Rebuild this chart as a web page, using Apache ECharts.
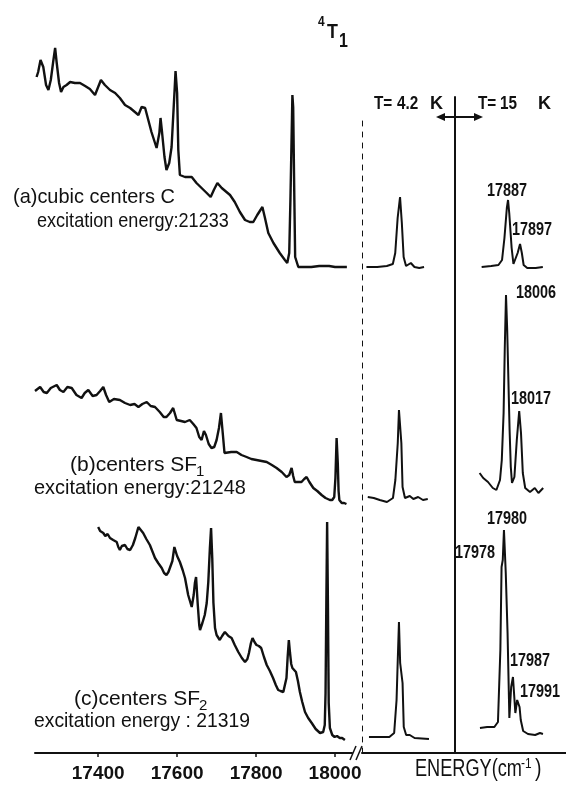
<!DOCTYPE html>
<html><head><meta charset="utf-8">
<script src="https://cdn.jsdelivr.net/npm/echarts@6/dist/echarts.min.js"></script>
<style>html,body{margin:0;padding:0;background:#fff}#c{width:566px;height:786px}</style>
</head><body><div id="c"></div><script>
// ---- tick labels (cm-1) ----
const tickValues = [17400, 17600, 17800, 18000];

// ---- left panel spectra: [energy cm-1, signal (arb., offset)] ----
const spectrumA = [[17244,676],[17248,681],[17254,693],[17261,686],[17268,668],[17274,663],[17280,673],[17286,691],[17291,705],[17295,690],[17301,670],[17306,661],[17312,666],[17320,668],[17329,671],[17341,670],[17354,670],[17367,667],[17379,664],[17392,658],[17400,666],[17407,673],[17417,668],[17430,663],[17443,660],[17455,655],[17468,648],[17481,645],[17493,641],[17502,638],[17510,646],[17519,645],[17527,633],[17535,621],[17544,610],[17548,605],[17555,620],[17558,635],[17562,620],[17568,596],[17573,583],[17580,590],[17586,606],[17590,636],[17594,666],[17596,682],[17600,660],[17603,603],[17607,578],[17620,576],[17637,576],[17649,570],[17662,565],[17675,560],[17685,556],[17693,563],[17702,570],[17713,565],[17725,561],[17734,558],[17746,551],[17759,541],[17772,533],[17784,531],[17793,531],[17803,538],[17816,546],[17822,536],[17831,520],[17844,510],[17860,500],[17873,493],[17879,490],[17884,500],[17887,553],[17891,636],[17892,658],[17894,646],[17897,553],[17899,496],[17907,486],[17920,486],[17940,486],[17960,487],[17975,487],[17980,489],[17985,487],[18000,486],[18030,486]];
const spectrumB = [[17240,362],[17245,364],[17253,366],[17262,361],[17270,360],[17280,365],[17295,368],[17303,363],[17312,361],[17322,366],[17333,365],[17345,358],[17358,355],[17366,360],[17375,363],[17386,357],[17396,358],[17405,362],[17413,366],[17420,358],[17428,351],[17440,354],[17455,353],[17468,350],[17481,348],[17492,349],[17502,346],[17512,349],[17523,351],[17533,347],[17544,346],[17556,341],[17566,336],[17573,336],[17582,340],[17590,345],[17599,333],[17610,332],[17620,331],[17632,333],[17641,329],[17649,325],[17656,316],[17662,313],[17668,322],[17673,318],[17680,309],[17687,305],[17694,306],[17700,313],[17706,325],[17711,340],[17716,318],[17720,300],[17724,298],[17737,301],[17751,301],[17763,298],[17776,296],[17788,294],[17801,293],[17814,292],[17827,291],[17840,288],[17852,285],[17865,281],[17877,276],[17884,278],[17890,285],[17894,277],[17898,271],[17906,271],[17915,271],[17922,274],[17928,276],[17935,271],[17945,265],[17955,262],[17966,258],[17976,255],[17987,253],[17993,253],[17998,256],[18001,275],[18004,315],[18007,290],[18009,262],[18011,253],[18017,250],[18023,250],[18029,249]];
const spectrumC = [[17400,226],[17405,222],[17409,224],[17413,220],[17418,217],[17424,219],[17430,215],[17438,213],[17447,211],[17451,206],[17455,203],[17460,207],[17468,208],[17474,204],[17481,203],[17488,208],[17494,215],[17502,226],[17508,223],[17514,220],[17522,214],[17531,208],[17538,201],[17544,195],[17552,190],[17561,185],[17567,180],[17573,178],[17578,181],[17582,180],[17588,192],[17593,206],[17600,197],[17607,191],[17614,183],[17620,175],[17628,158],[17637,146],[17642,158],[17645,170],[17648,176],[17652,150],[17656,128],[17658,123],[17664,130],[17670,138],[17675,150],[17679,171],[17683,205],[17686,225],[17689,195],[17692,150],[17696,125],[17700,118],[17708,113],[17714,117],[17721,121],[17730,117],[17738,115],[17746,108],[17755,101],[17764,95],[17772,91],[17778,94],[17782,100],[17787,110],[17791,115],[17796,111],[17801,108],[17807,107],[17813,105],[17820,96],[17827,88],[17835,82],[17843,75],[17850,68],[17856,63],[17862,62],[17869,61],[17874,63],[17877,75],[17880,96],[17883,113],[17886,100],[17889,89],[17892,85],[17896,84],[17901,81],[17906,72],[17911,61],[17917,51],[17924,41],[17932,35],[17941,30],[17951,24],[17962,20],[17970,21],[17974,28],[17976,60],[17978,150],[17980,231],[17982,150],[17984,50],[17987,25],[17993,18],[17999,16],[18005,17],[18012,15],[18018,15],[18025,13]];

// ---- T = 4.2 K insets ----
const lowTA = [[17859,486],[17868,486],[17876,487],[17881,489],[17883,500],[17885,535],[17887,556],[17888.5,530],[17890,496],[17892,487],[17896,490],[17899,486],[17903,485],[17907,486]];
const lowTB = [[17980,256],[17985,255],[17990,253],[17996,251],[18001,255],[18003,273],[18005,310],[18006,343],[18008,310],[18009,266],[18011,255],[18015,257],[18018,254],[18022,256],[18026,253],[18030,254]];
const lowTC = [[17955,16],[17963,16],[17972,16],[17976,20],[17978,53],[17979,93],[17980,131],[17981,90],[17982,91],[17983,70],[17984,26],[17986,18],[17989,18],[17993,15],[18005,14]];

// ---- T = 15 K insets ----
const highTA = [[17865,486],[17873,487],[17879,488],[17882,493],[17884,515],[17886,545],[17887,553],[17888,540],[17890,505],[17891.5,489],[17893,490],[17895,500],[17897,509],[17898.5,500],[17900,488],[17903,485],[17910,485],[17916,486]];
const highTB = [[17984,280],[17987,275],[17991,271],[17995,265],[17998,263],[18001,273],[18002.5,293],[18004,340],[18005,406],[18006,458],[18007,423],[18009,323],[18010,286],[18011,270],[18013,276],[18015,313],[18017,342],[18018.5,320],[18020,280],[18022,265],[18026,261],[18030,265],[18033,260],[18037,265]];
const highTC = [[17960,25],[17966,26],[17972,26],[17975,31],[17977,103],[17978,186],[17979,193],[17980,223],[17981.5,180],[17983,120],[17984.5,35],[17986,66],[17987.5,76],[17989.5,40],[17991,53],[17993,46],[17994,33],[17996,22],[18000,19],[18006,18],[18010,20],[18012.5,19]];

// ---- peak annotations ----
const peakLabels = ['17887','17897','18006','18017','17980','17978','17987','17991'];

const INK = '#111';
const NARROW = '"Liberation Sans Narrow","Liberation Sans",sans-serif';
const SANS = '"Liberation Sans",Arial,sans-serif';

function lineSeries(data, xi, yi, w) {
  return {type:'line', data, xAxisIndex:xi, yAxisIndex:yi, showSymbol:false, symbol:'none',
    lineStyle:{color:INK, width:w||2}, silent:true, animation:false, clip:false, z:5};
}
function hiddenX(grid, min, max) {
  return {type:'value', gridIndex:grid, min, max, show:false};
}
function txt(str, x, y, size, o) {
  o = o || {};
  return {type:'text', x, y, scaleX:o.sx||1, silent:true, z:100,
    style:{text:str, x:0, y:0, fontSize:size, fontFamily:o.ff||SANS, fontWeight:o.fw||'normal',
      fill:INK, align:o.align||'left', verticalAlign:'middle'}};
}

const chart = echarts.init(document.getElementById('c'), null, {renderer:'canvas'});
const bold = {fw:'bold', sx:0.8, align:'center'};
const option = {
  backgroundColor:'#fff',
  animation:false,
  grid:[
    {left:35, top:0, width:317, height:753},
    {left:362, top:115, width:93, height:638},
    {left:455, top:97, width:111, height:656}
  ],
  xAxis:[
    {type:'value', gridIndex:0, min:17240, max:18043,
      axisLine:{show:true, onZero:false, lineStyle:{color:INK, width:2}},
      axisTick:{show:true, customValues:tickValues, length:4, lineStyle:{color:INK, width:1.5}},
      axisLabel:{show:true, customValues:tickValues, formatter:v => String(v), color:INK, fontFamily:NARROW, fontWeight:'bold', fontSize:19, margin:11},
      splitLine:{show:false}},
    {type:'value', gridIndex:1, min:17855.3, max:17932.8,
      axisLine:{show:true, onZero:false, lineStyle:{color:INK, width:2}},
      axisTick:{show:false}, axisLabel:{show:false}, splitLine:{show:false}},
    hiddenX(1, 17975.2, 18052.7),
    hiddenX(1, 17949.2, 18026.7),
    {type:'value', gridIndex:2, min:17842.8, max:17935.3,
      axisLine:{show:true, onZero:false, lineStyle:{color:INK, width:2}},
      axisTick:{show:false}, axisLabel:{show:false}, splitLine:{show:false}},
    hiddenX(2, 17963.5, 18056),
    hiddenX(2, 17939.2, 18031.7)
  ],
  yAxis:[
    {type:'value', gridIndex:0, min:0, max:753, show:false},
    {type:'value', gridIndex:1, min:0, max:638,
      axisLine:{show:true, onZero:false, lineStyle:{color:INK, width:1, type:[5,6]}},
      axisTick:{show:false}, axisLabel:{show:false}, splitLine:{show:false}},
    {type:'value', gridIndex:2, min:0, max:656,
      axisLine:{show:true, onZero:false, lineStyle:{color:INK, width:2}},
      axisTick:{show:false}, axisLabel:{show:false}, splitLine:{show:false}}
  ],
  series:[
    lineSeries(spectrumA, 0, 0, 2.4),
    lineSeries(spectrumB, 0, 0, 2.4),
    lineSeries(spectrumC, 0, 0, 2.4),
    lineSeries(lowTA, 1, 1),
    lineSeries(lowTB, 2, 1),
    lineSeries(lowTC, 3, 1),
    lineSeries(highTA, 4, 2),
    lineSeries(highTB, 5, 2),
    lineSeries(highTC, 6, 2)
  ],
  graphic:[
    // title 4T1
    txt('4', 318, 22, 14, {fw:'bold', sx:0.85}),
    txt('T', 327, 32, 21, {fw:'bold', sx:0.85}),
    txt('1', 339, 41, 20, {fw:'bold', sx:0.8}),
    // temperature headers
    txt('T=', 374, 104, 18, {fw:'bold', sx:0.85}),
    txt('4.2', 397, 104, 18, {fw:'bold', sx:0.85}),
    txt('K', 430, 104, 19, {fw:'bold', sx:0.95}),
    txt('T=', 478, 104, 18, {fw:'bold', sx:0.85}),
    txt('15', 500, 104, 18, {fw:'bold', sx:0.85}),
    txt('K', 538, 104, 19, {fw:'bold', sx:0.95}),
    {type:'line', silent:true, shape:{x1:441, y1:117, x2:478, y2:117}, style:{stroke:INK, lineWidth:2}},
    {type:'polygon', silent:true, shape:{points:[[436,117],[445,113],[445,121]]}, style:{fill:INK}},
    {type:'polygon', silent:true, shape:{points:[[483,117],[474,113],[474,121]]}, style:{fill:INK}},
    // axis break
    {type:'line', silent:true, shape:{x1:350, y1:760, x2:356, y2:746}, style:{stroke:INK, lineWidth:1.5}},
    {type:'line', silent:true, shape:{x1:356, y1:760, x2:362, y2:746}, style:{stroke:INK, lineWidth:1.5}},
    // series captions
    txt('(a)cubic centers C', 13, 197, 21, {sx:0.95}),
    txt('excitation energy:21233', 37, 221, 21, {sx:0.86}),
    txt('(b)centers SF', 70, 465, 21, {sx:1.0}),
    txt('1', 196, 472, 15),
    txt('excitation energy:21248', 34, 488, 21, {sx:0.95}),
    txt('(c)centers SF', 74, 699, 21, {sx:1.0}),
    txt('2', 199, 706, 15),
    txt('excitation energy : 21319', 34, 721, 21, {sx:0.92}),
    // peak labels
    txt(peakLabels[0], 507, 191, 18, bold),
    txt(peakLabels[1], 532, 230, 18, bold),
    txt(peakLabels[2], 536, 293, 18, bold),
    txt(peakLabels[3], 531, 399, 18, bold),
    txt(peakLabels[4], 507, 519, 18, bold),
    txt(peakLabels[5], 475, 553, 18, bold),
    txt(peakLabels[6], 530, 661, 18, bold),
    txt(peakLabels[7], 540, 692, 18, bold),
    // axis title
    txt('ENERGY(cm', 415, 770, 23, {sx:0.79}),
    txt('-1', 521, 764, 14, {sx:0.85}),
    txt(')', 535, 770, 23, {sx:0.85})
  ]
};
chart.setOption(option);
</script></body></html>
